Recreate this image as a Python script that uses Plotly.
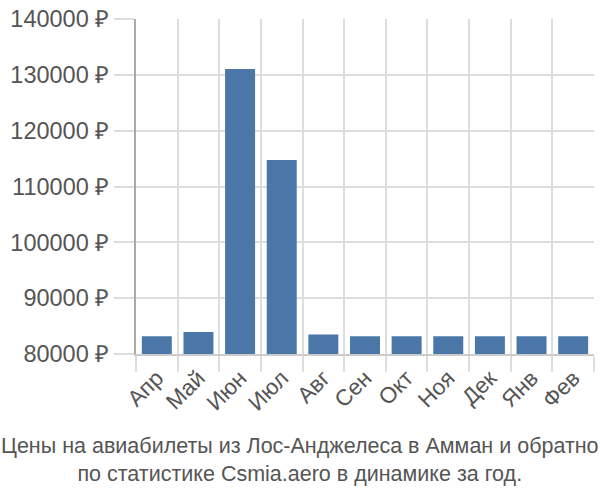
import plotly.graph_objects as go

months = ["Апр", "Май", "Июн", "Июл", "Авг", "Сен", "Окт", "Ноя", "Дек", "Янв", "Фев"]
prices = [83200, 83950, 131050, 114750, 83500, 83200, 83200, 83200, 83200, 83200, 83200]
y_ticks = [80000, 90000, 100000, 110000, 120000, 130000, 140000]
caption = "Цены на авиабилеты из Лос-Анджелеса в Амман и обратно<br>по статистике Csmia.aero в динамике за год."

FONT = "Liberation Sans, Arial, sans-serif"
TXT = "#555555"

fig = go.Figure(go.Bar(x=months, y=prices, marker=dict(color="#4a77a8", line=dict(width=0))))

fig.update_layout(
    width=600, height=500,
    margin=dict(l=136, r=6, t=14, b=146),
    paper_bgcolor="white", plot_bgcolor="white",
    bargap=0.28,
    showlegend=False,
    font=dict(family=FONT, color=TXT),
)
fig.update_xaxes(
    type="category", tickson="boundaries",
    showgrid=True, gridcolor="#dddddd", gridwidth=2,
    ticks="outside", ticklen=16, tickcolor="#dddddd", tickwidth=2,
    showline=True, linecolor="#cccccc", linewidth=2,
    tickangle=-45, tickfont=dict(size=22.5, color=TXT, family=FONT),
)
fig.update_yaxes(
    range=[80000, 140000], tickvals=y_ticks,
    ticktext=[f"{v} ₽" for v in y_ticks],
    showgrid=True, gridcolor="#dddddd", gridwidth=2,
    ticks="outside", ticklen=20, tickcolor="#dddddd", tickwidth=2,
    showline=True, linecolor="#aaaaaa", linewidth=2,
    zeroline=False,
    tickfont=dict(size=23.5, color=TXT, family=FONT),
)
fig.add_annotation(
    text=caption, xref="paper", yref="paper", x=(300 - 136) / 458, y=0,
    xanchor="center", yanchor="middle", yshift=-106,
    showarrow=False, font=dict(size=21.5, color=TXT, family=FONT),
)
fig.write_html("out.html")
